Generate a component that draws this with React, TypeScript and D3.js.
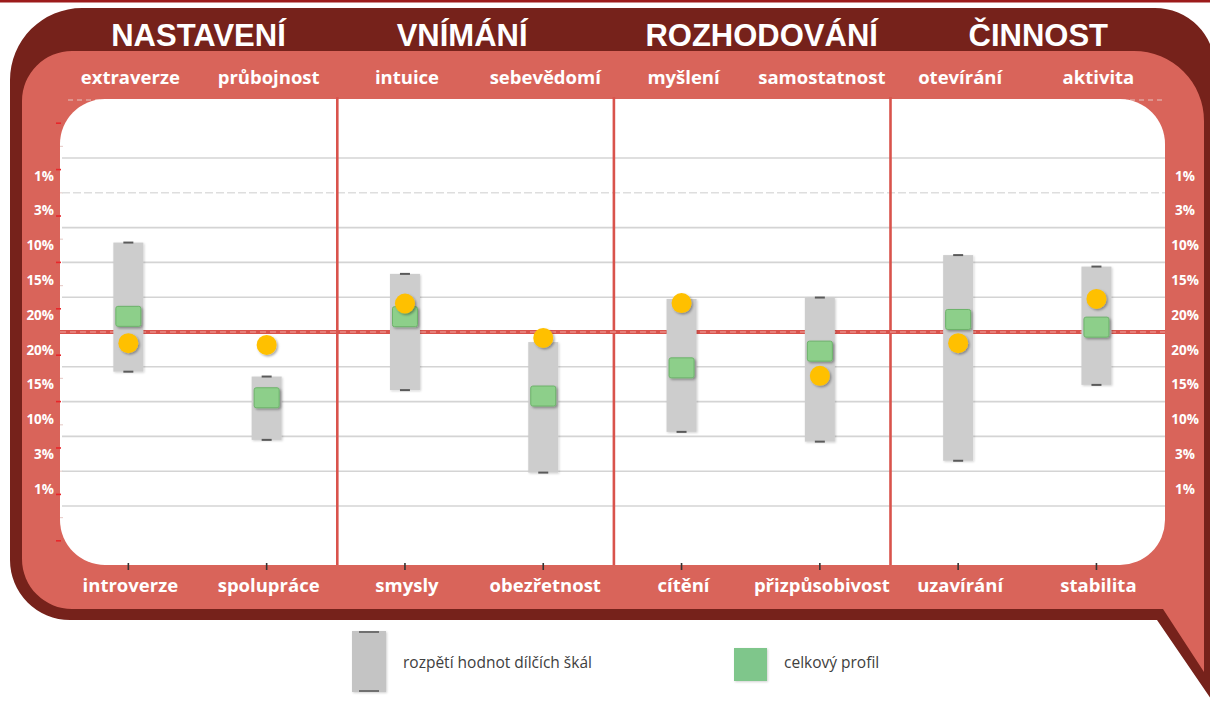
import React from "react";
import * as d3 from "d3";

// ---- data ----
const groups = ["NASTAVENÍ", "VNÍMÁNÍ", "ROZHODOVÁNÍ", "ČINNOST"];
const topLabels = ["extraverze", "průbojnost", "intuice", "sebevědomí", "myšlení", "samostatnost", "otevírání", "aktivita"];
const bottomLabels = ["introverze", "spolupráce", "smysly", "obezřetnost", "cítění", "přizpůsobivost", "uzavírání", "stabilita"];
const rangeLow = [3.86, 1.9, 3.33, 0.96, 2.13, 1.85, 1.3, 3.48];
const rangeHigh = [7.57, 3.72, 6.67, 4.71, 5.95, 5.99, 7.21, 6.88];
const profile = [5.45, 3.11, 5.44, 3.16, 3.97, 4.45, 5.36, 5.14];
const personal = [4.68, 4.63, 5.82, 4.83, 5.83, 3.74, 4.68, 5.95];
const percentLabels = ["1%", "3%", "10%", "15%", "20%", "20%", "15%", "10%", "3%", "1%"];
const gridValues = [0, 1, 2, 3, 4, 5, 6, 7, 8, 9, 10];
const dashedGridValue = 9;
const meanValue = 5;
const majorTicks = [-1, 0.333, 1.667, 3, 4.333, 5.667, 7, 8.333, 9.667, 11];
const minorTicks = [-0.333, 1, 2.333, 3.667, 6.333, 7.667, 9, 10.333];
const legendLabels = ["rozpětí hodnot dílčích škál", "celkový profil"];

// ---- colours ----
const DARK = "#76221b";
const PINK = "#d9645a";
const RED = "#d9534c";
const GRID = "#d4d4d4";
const BAR = "#cdcdcd";
const GREEN = "#8dcf8a";
const GREEN_EDGE = "#6cb36a";
const YELLOW = "#ffc000";

const W = 1210;
const H = 702;

export default function App() {
  const x = d3.scaleBand<string>().domain(topLabels).range([59.2, 1165.6]);
  const bw = x.bandwidth();
  const cx = (i: number) => (x(topLabels[i]) as number) + bw / 2;
  const y = d3.scaleLinear().domain([0, 10]).range([506, 158]);

  const plotL = 60, plotR = 1165, plotT = 99, plotB = 565;

  // outer dark shape
  const dark = d3.path();
  dark.moveTo(10, 80);
  dark.arcTo(10, 8, 82, 8, 72);
  dark.lineTo(1155, 8);
  dark.arcTo(1215, 8, 1215, 68, 60);
  dark.lineTo(1215, 702);
  dark.lineTo(1213, 702);
  dark.lineTo(1157, 620);
  dark.lineTo(70, 620);
  dark.arcTo(10, 620, 10, 560, 60);
  dark.closePath();

  // inner pink shape
  const pink = d3.path();
  pink.moveTo(22, 101);
  pink.arcTo(22, 51, 72, 51, 50);
  pink.lineTo(1134, 51);
  pink.arcTo(1204, 51, 1204, 121, 70);
  pink.lineTo(1204, 672);
  pink.lineTo(1163, 609);
  pink.lineTo(72, 609);
  pink.arcTo(22, 609, 22, 559, 50);
  pink.closePath();

  const sepIdx = [2, 4, 6];
  const sepX = sepIdx.map((i) => (x(topLabels[i]) as number) + 1.5);
  const titleDx = [1, -12, 11, 11];
  const groupCenter = (g: number) =>
    ((x(topLabels[2 * g]) as number) + (x(topLabels[2 * g + 1]) as number) + bw) / 2 + titleDx[g];

  const catFont = "'Open Sans', 'Noto Sans', sans-serif";

  return (
    <div style={{ position: "absolute", left: 0, top: 0 }}>
      <svg width={W} height={H} style={{ display: "block" }}>
        <defs>
          <filter id="sh" x="-30%" y="-30%" width="160%" height="160%">
            <feDropShadow dx="1.5" dy="1.5" stdDeviation="1" floodColor="#000" floodOpacity="0.35" />
          </filter>
          <filter id="shb" x="-30%" y="-10%" width="160%" height="120%">
            <feDropShadow dx="1" dy="1" stdDeviation="1" floodColor="#000" floodOpacity="0.18" />
          </filter>
        </defs>
        <rect x={0} y={0} width={W} height={H} fill="#fff" />
        <rect x={0} y={0} width={W} height={2.5} fill="#9c1b1b" />
        <path d={dark.toString()} fill={DARK} />
        <path d={pink.toString()} fill={PINK} />

        {/* dashed line at plot top edge */}
        <line x1={plotL + 8} x2={plotR} y1={plotT + 1} y2={plotT + 1} stroke="#e6c4c0" strokeWidth={1.2} strokeDasharray="5 4" />
        <rect x={plotL} y={plotT} width={plotR - plotL} height={plotB - plotT} rx={45} ry={45} fill="#fff" />

        {/* axis ticks on the left */}
        {majorTicks.map((v, i) => (
          <line key={"mt" + i} x1={56} x2={61} y1={y(v)} y2={y(v)} stroke="#e8262a" strokeWidth={1.6} />
        ))}
        {minorTicks.map((v, i) => (
          <line key={"nt" + i} x1={60} x2={63} y1={y(v)} y2={y(v)} stroke="#e9d0cd" strokeWidth={1.2} />
        ))}

        {/* gridlines */}
        {gridValues
          .filter((v) => v !== meanValue)
          .map((v) => (
            <line
              key={"g" + v}
              x1={plotL + 2}
              x2={plotR}
              y1={y(v)}
              y2={y(v)}
              stroke={v === dashedGridValue ? "#dedede" : GRID}
              strokeWidth={1.6}
              strokeDasharray={v === dashedGridValue ? "8 3" : undefined}
            />
          ))}

        {/* group separators */}
        {sepX.map((sx, i) => (
          <line key={"s" + i} x1={sx} x2={sx} y1={plotT - 2} y2={plotB} stroke={RED} strokeWidth={2.6} />
        ))}

        {/* mean line */}
        <line x1={plotL} x2={plotR} y1={y(meanValue)} y2={y(meanValue)} stroke={RED} strokeWidth={4} />
        <line x1={plotL} x2={plotR} y1={y(meanValue)} y2={y(meanValue)} stroke="#f2aaa4" strokeWidth={1.2} strokeDasharray="6 4" />

        {/* x-axis ticks at bottom */}
        {topLabels.map((_, i) => (
          <line key={"xt" + i} x1={cx(i)} x2={cx(i)} y1={plotB - 2} y2={plotB + 5} stroke="#333" strokeWidth={1.6} />
        ))}

        {/* range bars */}
        {topLabels.map((_, i) => {
          const yt = y(rangeHigh[i]);
          const yb = y(rangeLow[i]);
          return (
            <g key={"b" + i}>
              <rect x={cx(i) - 15} y={yt} width={30} height={yb - yt} fill={BAR} filter="url(#shb)" />
              <line x1={cx(i) - 5} x2={cx(i) + 5} y1={yt} y2={yt} stroke="#5a5a5a" strokeWidth={2} />
              <line x1={cx(i) - 5} x2={cx(i) + 5} y1={yb} y2={yb} stroke="#5a5a5a" strokeWidth={2} />
            </g>
          );
        })}

        {/* profile squares */}
        {profile.map((v, i) => (
          <rect
            key={"p" + i}
            x={cx(i) - 12.5}
            y={y(v) - 10}
            width={25}
            height={20}
            rx={2}
            fill={GREEN}
            stroke={GREEN_EDGE}
            strokeWidth={1}
            filter="url(#sh)"
          />
        ))}

        {/* personal points */}
        {personal.map((v, i) => (
          <circle key={"c" + i} cx={cx(i)} cy={y(v)} r={10} fill={YELLOW} filter="url(#sh)" />
        ))}

        {/* percent labels */}
        {percentLabels.map((t, i) => {
          const yy = (y(9 - i) + y(10 - i)) / 2 + 1.5;
          return (
            <g key={"pl" + i}>
              <text x={54} y={yy} textAnchor="end" dominantBaseline="middle" fill="#fff" fontFamily={catFont} fontWeight={700} fontSize={13.5}>
                {t}
              </text>
              <text x={1185} y={yy} textAnchor="middle" dominantBaseline="middle" fill="#fff" fontFamily={catFont} fontWeight={700} fontSize={13.5}>
                {t}
              </text>
            </g>
          );
        })}

        {/* group titles */}
        {groups.map((g, i) => (
          <text
            key={"gt" + i}
            x={groupCenter(i)}
            y={46}
            textAnchor="middle"
            fill="#fff"
            fontFamily="'Liberation Sans', Arial, sans-serif"
            fontWeight={700}
            fontSize={31}
          >
            {g}
          </text>
        ))}

        {/* category labels */}
        {topLabels.map((t, i) => (
          <text key={"tl" + i} x={cx(i) + 2} y={84} textAnchor="middle" fill="#fff" fontFamily={catFont} fontWeight={700} fontSize={18.5}>
            {t}
          </text>
        ))}
        {bottomLabels.map((t, i) => (
          <text key={"bl" + i} x={cx(i) + 2} y={592} textAnchor="middle" fill="#fff" fontFamily={catFont} fontWeight={700} fontSize={18.5}>
            {t}
          </text>
        ))}

        {/* legend */}
        <g>
          <rect x={352} y={631} width={34} height={61} fill="#c4c4c4" filter="url(#shb)" />
          <line x1={359} x2={379} y1={632} y2={632} stroke="#707070" strokeWidth={2} />
          <line x1={359} x2={379} y1={691} y2={691} stroke="#707070" strokeWidth={2} />
          <text x={403} y={668} fill="#404040" fontFamily={catFont} fontSize={15.5}>
            {legendLabels[0]}
          </text>
          <rect x={734} y={648} width={33} height={33} fill="#7fc68b" filter="url(#shb)" />
          <text x={784} y={668} fill="#404040" fontFamily={catFont} fontSize={15.5}>
            {legendLabels[1]}
          </text>
        </g>
      </svg>
    </div>
  );
}
